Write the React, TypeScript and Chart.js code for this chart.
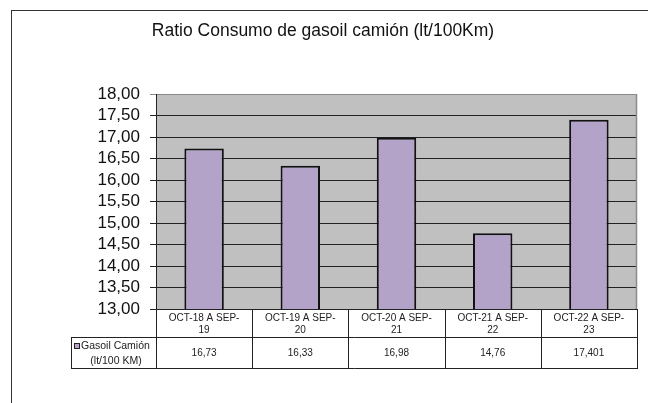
import React, { useEffect, useRef } from "react";
import { Chart, registerables } from "chart.js";

Chart.register(...registerables);

const TITLE = "Ratio Consumo de gasoil camión (lt/100Km)";
const categories = ["OCT-18 A SEP-19", "OCT-19 A SEP-20", "OCT-20 A SEP-21", "OCT-21 A SEP-22", "OCT-22 A SEP-23"];
const seriesName = ["Gasoil Camión", "(lt/100 KM)"];
const values = [16.73, 16.33, 16.98, 14.76, 17.401];
const valueLabels = ["16,73", "16,33", "16,98", "14,76", "17,401"];
const yMin = 13;
const yMax = 18;
const yStep = 0.5;

const FONT = "'Liberation Sans', Arial, sans-serif";
const BAR_FILL = "#b3a3c9";
const PLOT_BG = "#c0c0c0";
const LINE = "#222222";

const framePlugin = {
  id: "frame",
  beforeDraw(chart: any) {
    const { ctx, chartArea } = chart;
    ctx.save();
    ctx.fillStyle = "#ffffff";
    ctx.fillRect(0, 0, chart.width, chart.height);
    ctx.fillStyle = PLOT_BG;
    ctx.fillRect(chartArea.left, chartArea.top, chartArea.right - chartArea.left, chartArea.bottom - chartArea.top);
    // outer frame
    ctx.strokeStyle = "#333333";
    ctx.lineWidth = 1;
    ctx.strokeRect(11.5, 10.5, 700, 500);
    // title
    ctx.fillStyle = "#111111";
    ctx.font = `17.5px ${FONT}`;
    ctx.textAlign = "center";
    ctx.textBaseline = "middle";
    ctx.fillText(TITLE, 323, 31);
    ctx.restore();
  },
  afterDraw(chart: any) {
    const { ctx, chartArea } = chart;
    const xs = chart.scales.x;
    const n = categories.length;
    const left = chartArea.left;
    const right = chartArea.right;
    const top = chartArea.bottom;
    const row1 = top + 28;
    const row2 = row1 + 31;
    const legendLeft = 71.5;
    const half = (right - left) / (2 * n);
    ctx.save();
    // plot right border
    ctx.strokeStyle = "#8a8a8a";
    ctx.lineWidth = 1.5;
    ctx.beginPath();
    ctx.moveTo(right - 0.5, chartArea.top);
    ctx.lineTo(right - 0.5, chartArea.bottom);
    ctx.stroke();
    ctx.strokeStyle = LINE;
    ctx.lineWidth = 1;
    ctx.beginPath();
    ctx.moveTo(left, top + 0.5);
    ctx.lineTo(right, top + 0.5);
    ctx.moveTo(legendLeft, row1 + 0.5);
    ctx.lineTo(right, row1 + 0.5);
    ctx.moveTo(legendLeft, row2 + 0.5);
    ctx.lineTo(right, row2 + 0.5);
    ctx.moveTo(legendLeft, row1);
    ctx.lineTo(legendLeft, row2 + 1);
    for (let i = 0; i <= n; i++) {
      const x = Math.round(left + 2 * half * i) + 0.5;
      ctx.moveTo(x, top);
      ctx.lineTo(x, row2 + 1);
    }
    ctx.stroke();
    ctx.fillStyle = "#222222";
    ctx.textAlign = "center";
    ctx.textBaseline = "middle";
    ctx.font = `10px ${FONT}`;
    categories.forEach((c, i) => {
      const cx = xs.getPixelForValue(i);
      const idx = c.indexOf("SEP-") + 4;
      ctx.fillText(c.slice(0, idx), cx, top + 9.5);
      ctx.fillText(c.slice(idx), cx, top + 21.5);
      ctx.fillText(valueLabels[i], cx, row1 + 16);
    });
    // legend cell
    ctx.fillStyle = BAR_FILL;
    ctx.fillRect(74, 343, 6, 6);
    ctx.strokeStyle = "#222";
    ctx.strokeRect(74.5, 343.5, 5, 5);
    ctx.fillStyle = "#222222";
    ctx.font = `10.5px ${FONT}`;
    ctx.textAlign = "left";
    ctx.fillText(seriesName[0], 81, 346.5);
    ctx.textAlign = "center";
    ctx.fillText(seriesName[1], 116, 361);
    ctx.restore();
  },
};

export default function App() {
  const ref = useRef<HTMLCanvasElement>(null);
  useEffect(() => {
    if (!ref.current) return;
    const chart = new Chart(ref.current, {
      type: "bar",
      data: {
        labels: categories,
        datasets: [
          {
            label: seriesName.join(" "),
            data: values,
            backgroundColor: BAR_FILL,
            borderColor: "#111111",
            borderWidth: 2,
            barPercentage: 0.41,
            categoryPercentage: 1,
          },
        ],
      },
      options: {
        animation: false,
        responsive: false,
        devicePixelRatio: 1,
        layout: { padding: { top: 94, right: 11, bottom: 94, left: 0 } },
        plugins: { legend: { display: false }, title: { display: false }, tooltip: { enabled: false } },
        scales: {
          x: { display: false, offset: true },
          y: {
            min: yMin,
            max: yMax,
            afterFit: (s: any) => {
              s.width = 156;
            },
            ticks: {
              stepSize: yStep,
              autoSkip: false,
              color: "#111111",
              padding: 10,
              font: { family: FONT, size: 17 },
              callback: (v: any) => Number(v).toFixed(2).replace(".", ","),
            },
            grid: {
              color: (c: any) => (c.tick && c.tick.value === yMax ? "#8a8a8a" : LINE),
              lineWidth: 1,
              tickLength: 6,
              drawTicks: true,
            },
            border: { color: LINE, width: 1 },
          },
        },
      },
      plugins: [framePlugin],
    });
    return () => chart.destroy();
  }, []);
  return (
    <div style={{ position: "fixed", left: 0, top: 0, width: 648, height: 403, background: "#fff" }}>
      <canvas ref={ref} width={648} height={403} style={{ width: 648, height: 403, display: "block" }} />
    </div>
  );
}
